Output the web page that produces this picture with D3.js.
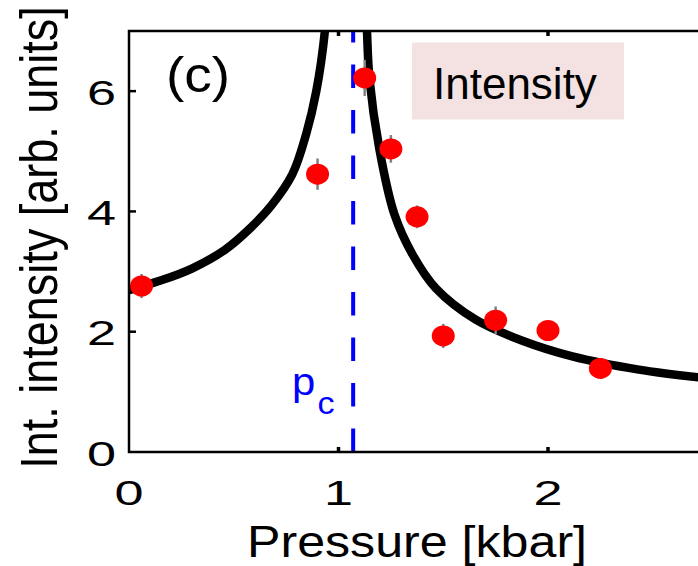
<!DOCTYPE html>
<html>
<head>
<meta charset="utf-8">
<script src="https://cdn.jsdelivr.net/npm/d3@7"></script>
<style>
  html, body { margin: 0; padding: 0; background: #fff; }
  svg { display: block; }
  text { font-family: "Liberation Sans", Arial, sans-serif; }
</style>
</head>
<body>
<svg id="chart" width="698" height="566"></svg>
<script>
// Measured integrated intensity vs. pressure
const pressure  = [0.06, 0.90, 1.125, 1.25, 1.375, 1.50, 1.75, 2.00, 2.25];
const intensity = [2.76, 4.62, 6.22, 5.04, 3.91, 1.93, 2.19, 2.02, 1.39];
const errors    = [0.20, 0.26, 0.30, 0.23, 0.19, 0.20, 0.23, 0.15, 0.15];

// Fitted curve, below the critical pressure
const fitLowP = [0.00, 0.15, 0.30, 0.457, 0.584, 0.68, 0.78, 0.846, 0.894, 0.935, 0.942];
const fitLowI = [2.69, 2.85, 3.05, 3.36, 3.74, 4.10, 4.62, 5.29, 6.00, 7.00, 7.40];
// Fitted curve, above the critical pressure
const fitHighP = [1.132, 1.136, 1.148, 1.195, 1.267, 1.354, 1.465, 1.655, 1.878, 2.116, 2.433, 2.72];
const fitHighI = [7.40, 7.00, 6.20, 5.04, 3.95, 3.28, 2.72, 2.20, 1.85, 1.59, 1.37, 1.24];

const criticalPressure = 1.07;
const xTicks = [0, 1, 2];
const yTicks = [0, 2, 4, 6];

const svg = d3.select("#chart");
const padL = 129, padT = 31, padB = 452, padR = 698;

const x = d3.scaleLinear().domain([0, 2.72]).range([padL, padL + 2.72 * 209.5]);
const y = d3.scaleLinear().domain([0, 7]).range([padB, padT]);

svg.append("defs").append("clipPath").attr("id", "plotClip")
  .append("rect").attr("x", padL).attr("y", padT)
  .attr("width", padR - padL).attr("height", padB - padT);

const plot = svg.append("g").attr("clip-path", "url(#plotClip)");

// critical pressure marker
plot.append("line")
  .attr("x1", x(criticalPressure)).attr("x2", x(criticalPressure))
  .attr("y1", y(0)).attr("y2", y(7))
  .attr("stroke", "#0000ff").attr("stroke-width", 4)
  .attr("stroke-dasharray", "23.5,22");

// fit curves
const line = d3.line().x(d => x(d[0])).y(d => y(d[1])).curve(d3.curveCatmullRom.alpha(0.5));
[[fitLowP, fitLowI], [fitHighP, fitHighI]].forEach(([ps, is]) => {
  plot.append("path")
    .datum(ps.map((p, i) => [p, is[i]]))
    .attr("d", line)
    .attr("fill", "none")
    .attr("stroke", "#000")
    .attr("stroke-width", 8.5)
    .attr("stroke-linejoin", "round");
});

const pts = pressure.map((p, i) => ({ p, v: intensity[i], e: errors[i] }));

// error bars
plot.selectAll(".err").data(pts).enter().append("line")
  .attr("x1", d => x(d.p)).attr("x2", d => x(d.p))
  .attr("y1", d => y(d.v - d.e)).attr("y2", d => y(d.v + d.e))
  .attr("stroke", "#808080").attr("stroke-width", 2.5);

// data markers
plot.selectAll(".pt").data(pts).enter().append("ellipse")
  .attr("cx", d => x(d.p)).attr("cy", d => y(d.v))
  .attr("rx", 11.5).attr("ry", 10.5)
  .attr("fill", "#ff0000");

// axes (box style, inward ticks)
const axisG = svg.append("g").attr("stroke", "#000").attr("stroke-width", 2.5).attr("fill", "none");
axisG.append("path").attr("d", `M${padR},${padT}H${padL}V${padB}H${padR}`);
xTicks.forEach(t => {
  if (t === 0) return;
  axisG.append("line").attr("x1", x(t)).attr("x2", x(t)).attr("y1", padB).attr("y2", padB - 5).attr("stroke-width", 3.5);
  axisG.append("line").attr("x1", x(t)).attr("x2", x(t)).attr("y1", padT).attr("y2", padT + 5).attr("stroke-width", 3.5);
});
yTicks.forEach(t => {
  if (t === 0) return;
  axisG.append("line").attr("x1", padL).attr("x2", padL + 7).attr("y1", y(t)).attr("y2", y(t));
});

// tick labels
xTicks.forEach(t => {
  svg.append("text")
    .attr("transform", `translate(${x(t)},505) scale(1.45,1)`)
    .attr("text-anchor", "middle")
    .attr("font-size", 36)
    .text(t);
});
yTicks.forEach(t => {
  svg.append("text")
    .attr("transform", `translate(116,${y(t) + 13.5}) scale(1.45,1)`)
    .attr("text-anchor", "end")
    .attr("font-size", 36)
    .text(t);
});

// axis titles
svg.append("text")
  .attr("transform", "translate(417,557) scale(1.14,1)")
  .attr("text-anchor", "middle").attr("font-size", 44)
  .text("Pressure [kbar]");
svg.append("text")
  .attr("transform", "translate(57,237.5) scale(1.14,1) rotate(-90)")
  .attr("text-anchor", "middle").attr("font-size", 45)
  .text("Int. intensity [arb. units]");

// panel tag
svg.append("text")
  .attr("transform", "translate(166,92) scale(1.1,1)")
  .attr("font-size", 50)
  .text("(c)");

// p_c label
const pc = svg.append("text")
  .attr("transform", "translate(292,395) scale(1.1,1)")
  .attr("fill", "#0000ff").attr("font-size", 38);
pc.append("tspan").text("p");
pc.append("tspan").attr("font-size", 31).attr("dx", 2).attr("dy", 19).text("c");

// annotation box
svg.append("rect")
  .attr("x", 412).attr("y", 42.5).attr("width", 212).attr("height", 77)
  .attr("fill", "#f3e2e1");
svg.append("text")
  .attr("x", 433).attr("y", 99)
  .attr("font-family", "Lato, 'Open Sans', sans-serif")
  .attr("font-size", 44).attr("fill", "#000")
  .text("Intensity");
</script>
</body>
</html>
